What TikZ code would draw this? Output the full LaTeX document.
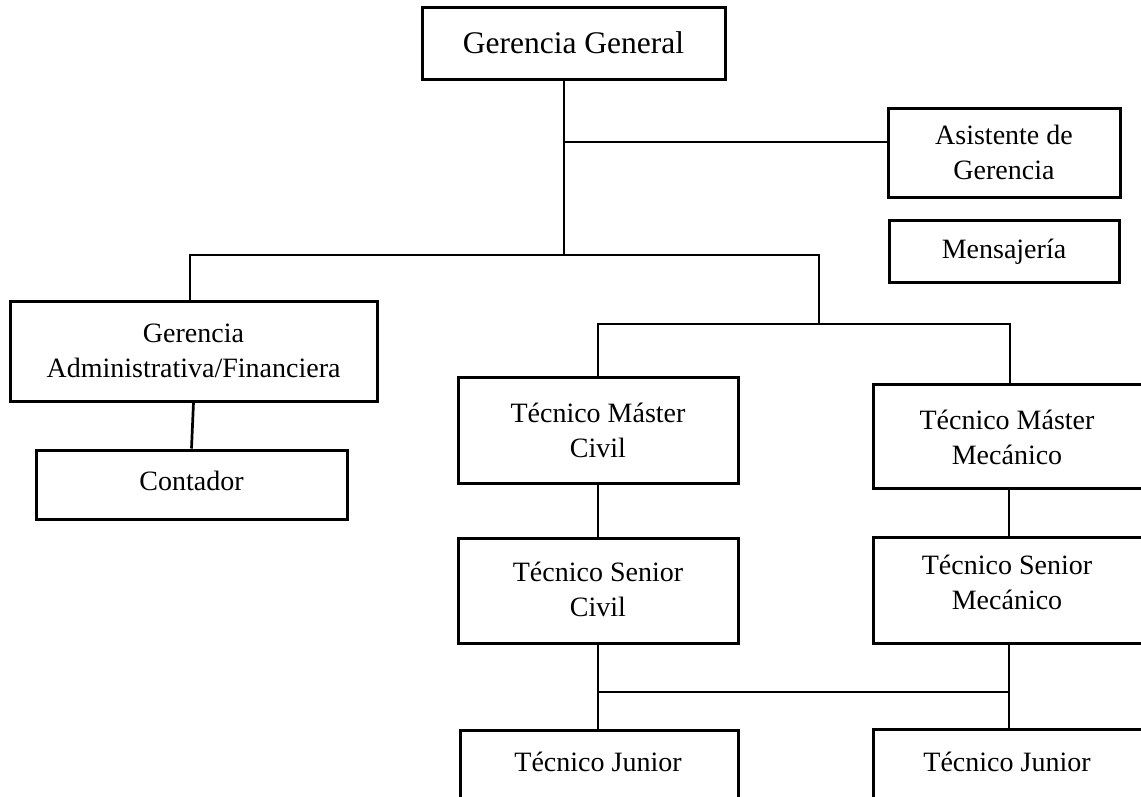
\documentclass[tikz,border=0pt]{standalone}
\usepackage{fontspec}
\setmainfont{Liberation Serif}
\begin{document}
\begin{tikzpicture}[x=1pt,y=-1pt,
  box/.style={draw, line width=3pt, inner sep=0pt},
  lbl/.style={align=center, inner sep=0pt, font=\fontsize{28}{35}\selectfont},
  biglbl/.style={align=center, inner sep=0pt, font=\fontsize{31.5}{38}\selectfont},
  conn/.style={line width=2.7pt, line join=miter}]
\useasboundingbox (0,0) rectangle (1141,796);
\clip (0,0) rectangle (1141,796);
\fill[white] (0,0) rectangle (1141,796);

% boxes
\node[box, minimum width=303, minimum height=72] (gg) at (573.5,43) {};
\node[box, minimum width=232, minimum height=89] (asis) at (1004,152.5) {};
\node[box, minimum width=230, minimum height=62] (mens) at (1004,251) {};
\node[box, minimum width=367, minimum height=100] (adm) at (193.5,351) {};
\node[box, minimum width=311, minimum height=69] (cont) at (191.5,484.5) {};
\node[box, minimum width=280, minimum height=106] (mcivil) at (598,430) {};
\node[box, minimum width=287, minimum height=104] (mmec) at (1016.5,436) {};
\node[box, minimum width=280, minimum height=105] (scivil) at (598,590.5) {};
\node[box, minimum width=287, minimum height=106] (smec) at (1016.5,590) {};
\node[box, minimum width=278, minimum height=130] (jl) at (599,795) {};
\node[box, minimum width=287, minimum height=131] (jr) at (1016.5,794.5) {};

% texts
\node[biglbl] (tgg) at (573.5,43) {Gerencia General};
\node[lbl] (tasis) at (1004,152) {Asistente de\\Gerencia};
\node[lbl] (tmens) at (1004,252) {Mensajería};
\node[lbl] (tadm) at (193.5,351) {Gerencia\\Administrativa/Financiera};
\node[lbl] (tcont) at (191.5,481) {Contador};
\node[lbl] (tmcivil) at (598,430) {Técnico Máster\\Civil};
\node[lbl] (tmmec) at (1007,437) {Técnico Máster\\Mecánico};
\node[lbl] (tscivil) at (598,589) {Técnico Senior\\Civil};
\node[lbl] (tsmec) at (1007,582) {Técnico Senior\\Mecánico};
\node[lbl] (tjl) at (598,762) {Técnico Junior};
\node[lbl] (tjr) at (1007,762) {Técnico Junior};

% junctions
\coordinate (j1) at (564,142);
\coordinate (j2) at (564,255);
\coordinate (j3) at (190,255);
\coordinate (j4) at (819,255);
\coordinate (j5) at (819,324);
\coordinate (j6) at (598,324);
\coordinate (j7) at (1010,324);
\coordinate (j8) at (598,692);
\coordinate (j9) at (1009,692);

% connectors
\draw[conn] (gg.south -| j1) -- (j2);
\draw[conn] (j1) -- (asis.west |- j1);
\draw[conn] (adm.north -| j3) -- (j3) -- (j4) -- (j5);
\draw[conn] (mcivil.north -| j6) -- (j6) -- (j7) -- (mmec.north -| j7);
\draw[conn] (adm.south) -- (cont.north);
\draw[conn] (mcivil.south) -- (scivil.north);
\draw[conn] (mmec.south -| j9) -- (smec.north -| j9);
\draw[conn] (scivil.south) -- (jl.north -| scivil.south);
\draw[conn] (j8) -- (j9);
\draw[conn] (smec.south -| j9) -- (jr.north -| j9);
\end{tikzpicture}
\end{document}
